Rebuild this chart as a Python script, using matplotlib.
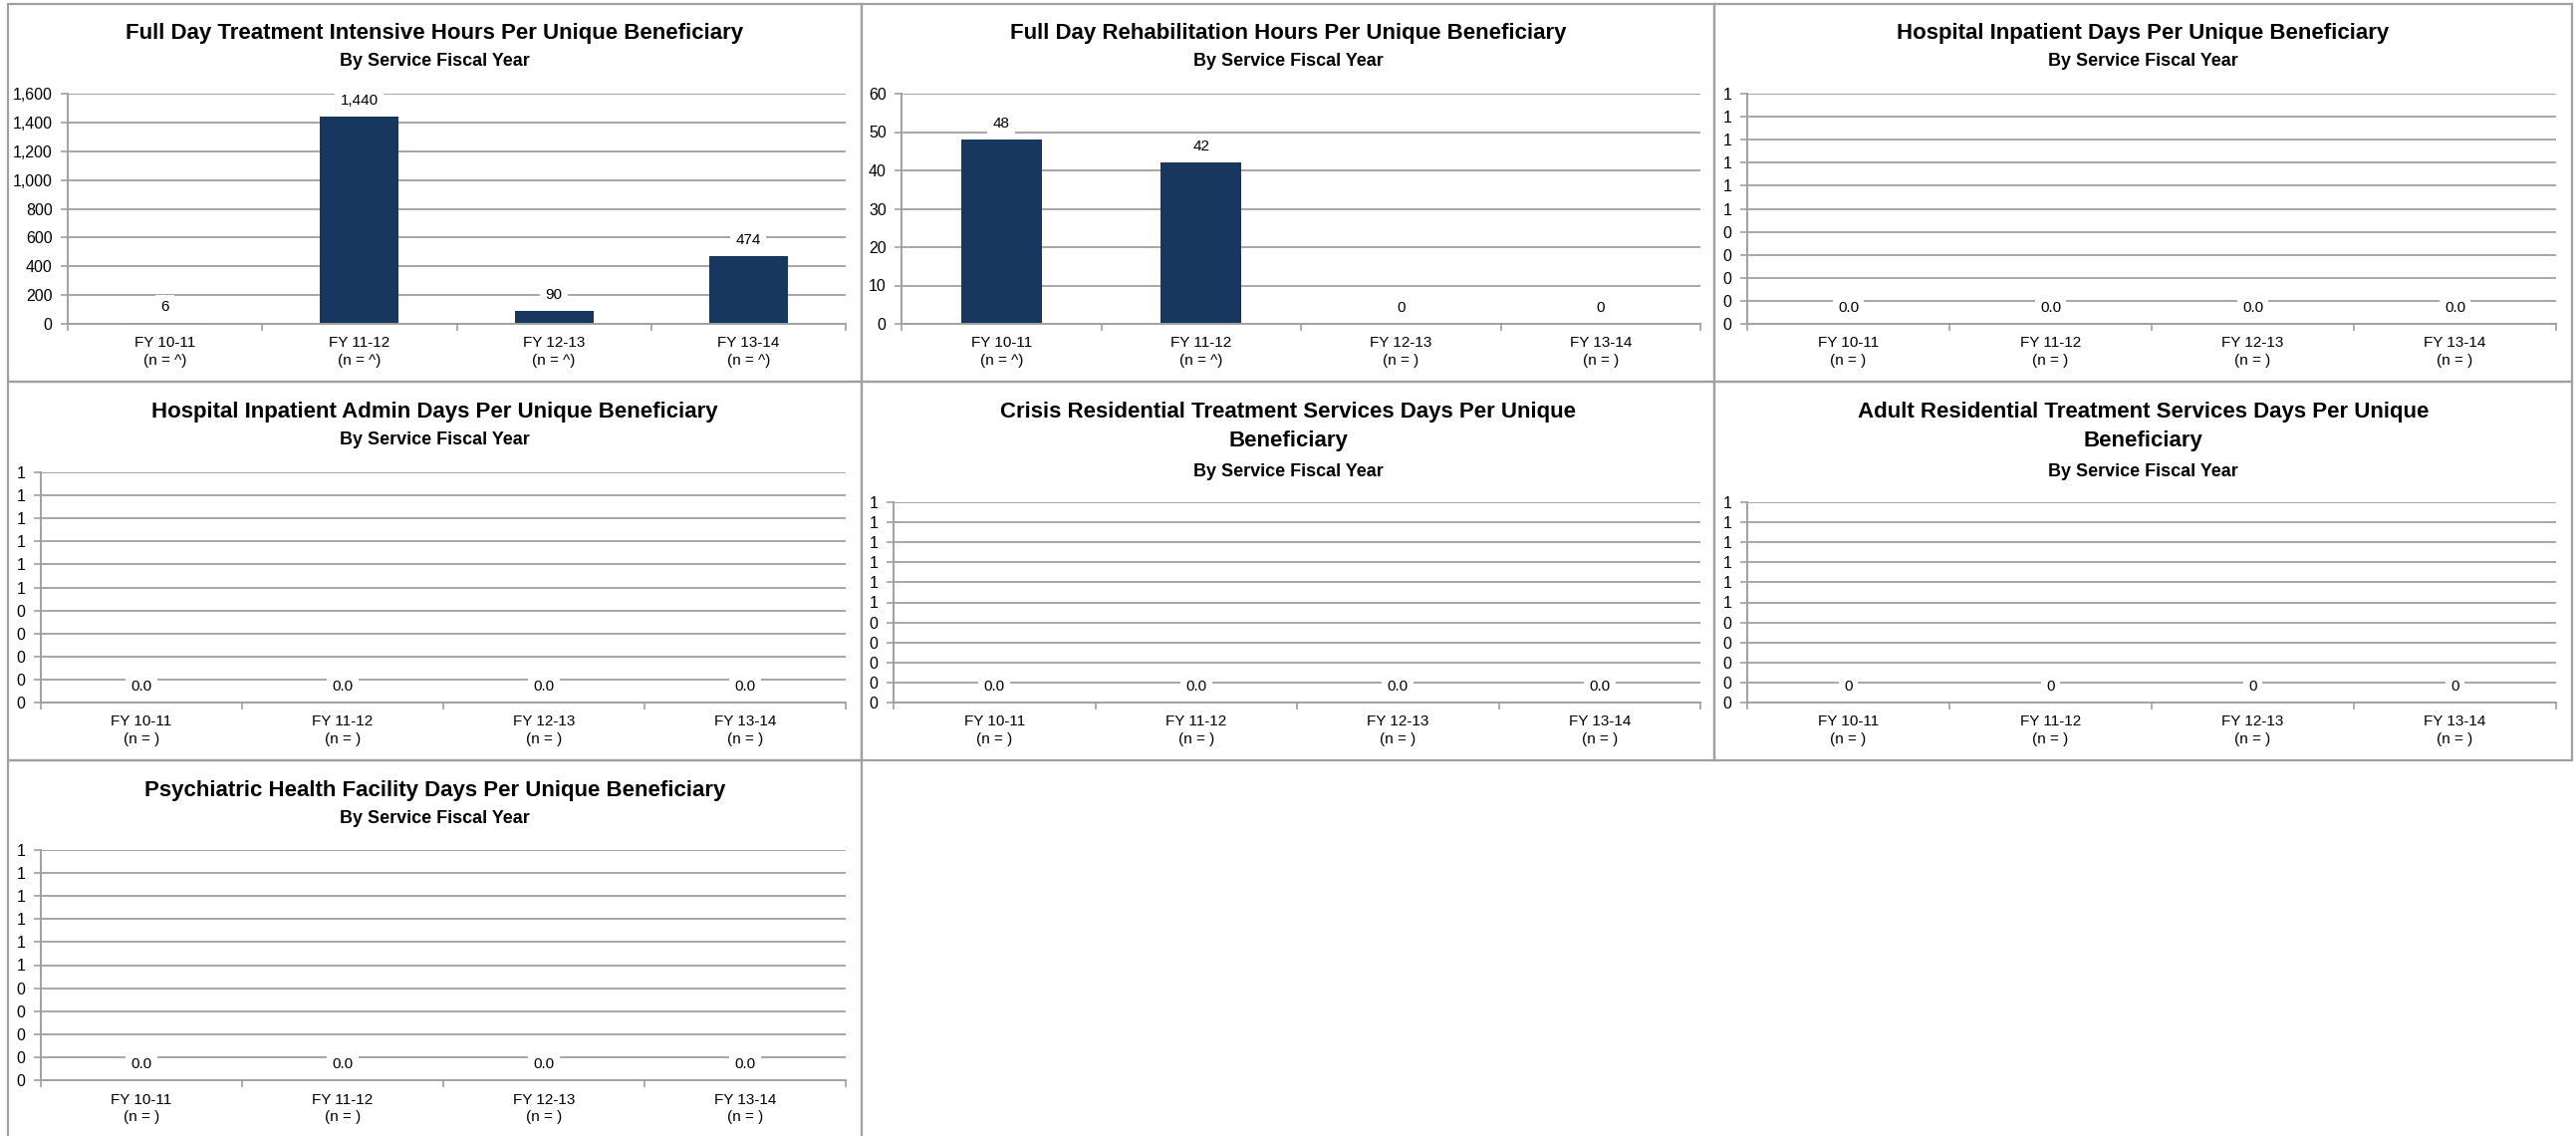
import matplotlib
matplotlib.use("Agg")
import matplotlib.pyplot as plt
from matplotlib.patches import Rectangle
from matplotlib.ticker import FixedLocator, FuncFormatter
import numpy as np

plt.rcParams['font.family'] = ['Liberation Sans Narrow', 'DejaVu Sans Condensed', 'Liberation Sans', 'DejaVu Sans']

# ---- data ----
years = ["FY 10-11", "FY 11-12", "FY 12-13", "FY 13-14"]
subtitle = "By Service Fiscal Year"

fdti_title = "Full Day Treatment Intensive Hours Per Unique Beneficiary"
fdti_hours = [6, 1440, 90, 474]
fdti_n = ["^", "^", "^", "^"]

fdr_title = "Full Day Rehabilitation Hours Per Unique Beneficiary"
fdr_hours = [48, 42, 0, 0]
fdr_n = ["^", "^", "", ""]

hosp_title = "Hospital Inpatient Days Per Unique Beneficiary"
hosp_days = [0, 0, 0, 0]

admin_title = "Hospital Inpatient Admin Days Per Unique Beneficiary"
admin_days = [0, 0, 0, 0]

crisis_title = "Crisis Residential Treatment Services Days Per Unique\nBeneficiary"
crisis_days = [0, 0, 0, 0]

adult_title = "Adult Residential Treatment Services Days Per Unique\nBeneficiary"
adult_days = [0, 0, 0, 0]

phf_title = "Psychiatric Health Facility Days Per Unique Beneficiary"
phf_days = [0, 0, 0, 0]

blank_n = ["", "", "", ""]

fdti_ticks = list(range(0, 1601, 200))
fdr_ticks = list(range(0, 61, 10))
unit_ticks = [i / 10 for i in range(11)]

# ---- layout (pixels) ----
W, H = 2586, 1140
BAR = "#17375e"
GRID = "#a6a6a6"
EDGE = "#a0a0a0"

fig = plt.figure(figsize=(W / 100, H / 100), dpi=100)


def frac_box(l, r, t, b):
    return [l / W, 1 - b / H, (r - l) / W, (b - t) / H]


def panel_border(x0, x1, y0, y1):
    fig.add_artist(Rectangle((x0 / W, 1 - y1 / H), (x1 - x0) / W, (y1 - y0) / H,
                             transform=fig.transFigure, fill=False,
                             edgecolor=EDGE, lw=1.6))


def half_up(v, pos=None):
    return str(int(np.floor(v + 0.5 + 1e-9)))


def draw_chart(pos, vals, n_vals, ticks, tick_fmt, lab_fmt):
    ax = fig.add_axes(frac_box(*pos))
    x = np.arange(len(years))
    ax.bar(x, vals, width=0.405, color=BAR, zorder=2)
    ax.set_xlim(-0.5, len(years) - 0.5)
    ax.set_ylim(ticks[0], ticks[-1])
    ax.yaxis.set_major_locator(FixedLocator(ticks))
    ax.yaxis.set_major_formatter(FuncFormatter(tick_fmt))
    ax.set_xticks(x)
    ax.set_xticklabels(["%s\n(n = %s)" % (y, n) for y, n in zip(years, n_vals)],
                       linespacing=1.35)
    ax.xaxis.set_minor_locator(FixedLocator(np.arange(-0.5, len(years), 1.0)))
    ax.tick_params(axis='x', which='major', length=0, pad=9, labelsize=11)
    ax.tick_params(axis='x', which='minor', length=5, color=EDGE, width=1.2)
    ax.tick_params(axis='y', length=5, color=EDGE, width=1.2, pad=6, labelsize=11.5)
    ax.set_axisbelow(True)
    ax.yaxis.grid(True, color=GRID, lw=1.4)
    for s in ['top', 'right']:
        ax.spines[s].set_visible(False)
    for s in ['left', 'bottom']:
        ax.spines[s].set_color(EDGE)
        ax.spines[s].set_linewidth(1.4)
    for xi, v in zip(x, vals):
        ax.annotate(lab_fmt.format(v), (xi, v), xytext=(0, 11.5),
                    textcoords='offset points', ha='center', va='center',
                    fontsize=11, zorder=4,
                    bbox=dict(boxstyle='square,pad=0.35', fc='white', ec='none'))
    return ax


def titles(cx, lines):
    for y, txt, size in lines:
        fig.text(cx / W, 1 - y / H, txt, ha='center', va='center',
                 fontsize=size, fontweight='bold', linespacing=1.55)


# panel borders
xs = [8, 865, 1721, 2582]
ys = [4, 383, 763, 1160]
for r in range(2):
    for c in range(3):
        panel_border(xs[c], xs[c + 1], ys[r], ys[r + 1])
panel_border(xs[0], xs[1], ys[2], ys[3])

cx = [(xs[i] + xs[i + 1]) / 2 for i in range(3)]

comma = lambda v, p=None: "{:,.0f}".format(v)
plain = lambda v, p=None: "{:.0f}".format(v)

draw_chart((68, 849, 94, 325), fdti_hours, fdti_n, fdti_ticks, comma, "{:,.0f}")
titles(cx[0], [(33, fdti_title, 16), (62, subtitle, 13)])

draw_chart((905, 1707, 94, 325), fdr_hours, fdr_n, fdr_ticks, plain, "{:.0f}")
titles(cx[1], [(33, fdr_title, 16), (62, subtitle, 13)])

draw_chart((1754, 2566, 94, 325), hosp_days, blank_n, unit_ticks, half_up, "{:.1f}")
titles(cx[2], [(33, hosp_title, 16), (62, subtitle, 13)])

draw_chart((41, 849, 474, 705), admin_days, blank_n, unit_ticks, half_up, "{:.1f}")
titles(cx[0], [(413, admin_title, 16), (442, subtitle, 13)])

draw_chart((897, 1707, 504, 705), crisis_days, blank_n, unit_ticks, half_up, "{:.1f}")
titles(cx[1], [(428, crisis_title, 16), (473, subtitle, 13)])

draw_chart((1754, 2566, 504, 705), adult_days, blank_n, unit_ticks, half_up, "{:.0f}")
titles(cx[2], [(428, adult_title, 16), (473, subtitle, 13)])

draw_chart((41, 849, 853, 1084), phf_days, blank_n, unit_ticks, half_up, "{:.1f}")
titles(cx[0], [(793, phf_title, 16), (822, subtitle, 13)])

fig.savefig("out.png", dpi=100, facecolor="white")
